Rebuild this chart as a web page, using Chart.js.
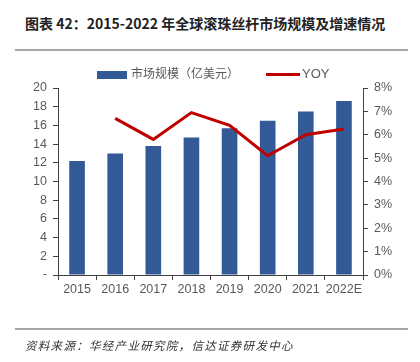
<!DOCTYPE html>
<html>
<head>
<meta charset="utf-8">
<script src="https://cdn.jsdelivr.net/npm/chart.js@4"></script>
<style>
  body { margin: 0; width: 420px; height: 362px; background: #fff; position: relative; overflow: hidden; font-family: "Liberation Sans", Arial, sans-serif; }
  #title { position: absolute; left: 25px; top: 13px; font: bold 14px "Noto Sans CJK SC", sans-serif; color: #222; white-space: nowrap; }
  .rule { position: absolute; left: 15px; width: 393px; height: 2px; background: #a6a6a6; }
  #src { position: absolute; left: 25px; top: 337px; font: italic 11.5px "Noto Sans CJK SC", sans-serif; letter-spacing: 1.3px; color: #333; white-space: nowrap; }
  .lg { position: absolute; top: 64px; font: 12px "Noto Sans CJK SC", sans-serif; color: #595959; white-space: nowrap; }
  #wrap { position: absolute; left: 0; top: 0; width: 420px; height: 362px; }
</style>
</head>
<body>
<div id="title">图表 42：2015-2022 年全球滚珠丝杆市场规模及增速情况</div>
<div class="rule" style="top:49px"></div>
<div id="wrap"><canvas id="c"></canvas></div>
<div class="lg" style="left:97px"><span style="display:inline-block;width:30px;height:8px;background:#335A96;vertical-align:middle;margin-right:4px"></span>市场规模（亿美元）</div>
<div class="lg" style="left:266px"><span style="display:inline-block;width:34px;height:3px;background:#C00000;vertical-align:middle;margin-right:2px"></span><span style="font-family:'Liberation Sans',Arial,sans-serif;font-size:13px">YOY</span></div>
<div class="rule" style="top:328px"></div>
<div id="src">资料来源：华经产业研究院，信达证券研发中心</div>
<script>
const years = ['2015', '2016', '2017', '2018', '2019', '2020', '2021', '2022E'];
const marketSize = [12.2, 13.0, 13.8, 14.7, 15.7, 16.5, 17.5, 18.6]; // 亿美元
const yoy = [null, 6.7, 5.8, 6.95, 6.4, 5.1, 6.0, 6.25]; // %

const axisColor = '#404040';
const tickColor = '#595959';

const ctx = document.getElementById('c').getContext('2d');
new Chart(ctx, {
    type: 'bar',
    data: {
        labels: years,
        datasets: [{
            type: 'line',
            label: 'YOY',
            data: yoy,
            yAxisID: 'y1',
            borderColor: '#C00000',
            borderWidth: 3,
            pointRadius: 0,
            tension: 0,
            order: 0
        }, {
            label: '市场规模（亿美元）',
            data: marketSize,
            yAxisID: 'y',
            backgroundColor: '#335A96',
            barPercentage: 0.41,
            categoryPercentage: 1,
            order: 1
        }]
    },
    options: {
        responsive: true,
        maintainAspectRatio: false,
        animation: false,
        layout: { padding: { top: 88, left: 0, right: 0, bottom: 57 } },
        plugins: {
            legend: { display: false },
            tooltip: { enabled: false }
        },
        scales: {
            x: {
                offset: true,
                grid: { offset: true, drawOnChartArea: false, drawTicks: true, tickLength: 5, color: axisColor },
                border: { color: axisColor, width: 1 },
                ticks: { color: tickColor, font: { size: 12.5, family: 'Liberation Sans' }, padding: 2, maxRotation: 0, autoSkip: false },
                afterFit: s => { s.height = 30; }
            },
            y: {
                position: 'left',
                min: 0, max: 20,
                ticks: { stepSize: 2, color: tickColor, font: { size: 12.5, family: 'Liberation Sans' }, padding: 6,
                    callback: v => v === 0 ? '-' : v },
                grid: { drawOnChartArea: false, tickLength: 5, color: axisColor },
                border: { color: axisColor, width: 1 },
                afterFit: s => { s.width = 58; }
            },
            y1: {
                position: 'right',
                min: 0, max: 8,
                ticks: { stepSize: 1, color: tickColor, font: { size: 12.5, family: 'Liberation Sans' }, padding: 6,
                    callback: v => v + '%' },
                grid: { drawOnChartArea: false, tickLength: 5, color: axisColor },
                border: { color: axisColor, width: 1 },
                afterFit: s => { s.width = 57; }
            }
        }
    }
});
</script>
</body>
</html>
